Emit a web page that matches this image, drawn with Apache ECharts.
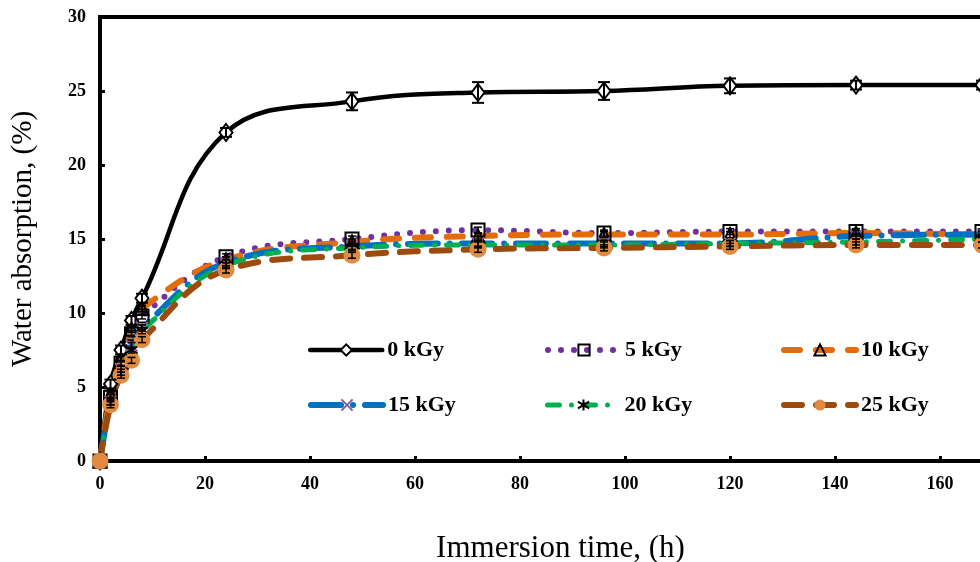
<!DOCTYPE html>
<html>
<head>
<meta charset="utf-8">
<script src="https://cdn.jsdelivr.net/npm/echarts@6/dist/echarts.min.js"></script>
<style>
  html, body { margin: 0; padding: 0; background: #fff; }
  #chart { width: 980px; height: 562px; }
</style>
</head>
<body>
<div id="chart"></div>
<script>
// immersion times (h)
const times = [0, 2, 4, 6, 8, 24, 48, 72, 96, 120, 144, 168];

// water absorption (%) per dose
const dose0 = [0, 5.2, 7.5, 9.5, 11.0, 22.2, 24.3, 24.9, 25.0, 25.35, 25.4, 25.4];
const dose5 = [0, 4.3, 6.6, 8.6, 9.8, 13.8, 15.0, 15.6, 15.4, 15.5, 15.5, 15.5];
const dose10 = [0, 4.5, 6.9, 8.9, 10.3, 13.6, 14.8, 15.2, 15.3, 15.3, 15.4, 15.3];
const dose15 = [0, 4.0, 6.2, 7.8, 9.0, 13.4, 14.5, 14.7, 14.7, 14.7, 15.2, 15.3];
const dose20 = [0, 4.0, 6.0, 7.5, 8.8, 13.2, 14.4, 14.6, 14.6, 14.7, 14.8, 15.0];
const dose25 = [0, 3.8, 5.8, 6.8, 8.2, 12.9, 13.9, 14.3, 14.4, 14.5, 14.6, 14.6];

// error bar half-heights
const err0 = [0, 0.3, 0.3, 0.3, 0.3, 0.3, 0.6, 0.7, 0.6, 0.5, 0.3, 0.3];
const errOther = [0, 0.2, 0.2, 0.2, 0.2, 0.2, 0.2, 0.2, 0.2, 0.2, 0.2, 0.2];

const legendNames = ['0 kGy', '5 kGy', '10 kGy', '15 kGy', '20 kGy', '25 kGy'];
const yTicks = [0, 5, 10, 15, 20, 25, 30];
const xTicks = [0, 20, 40, 60, 80, 100, 120, 140, 160];

const serif = '"Liberation Serif", "Times New Roman", serif';

const chart = echarts.init(document.getElementById('chart'));

const pairs = (ys) => times.map((t, i) => [t, ys[i]]);
const errPairs = (ys, es) => times.map((t, i) => [t, ys[i], es[i]]).filter(d => d[2] > 0 && d[1] > 0);

const makeErrorBars = (cw, lw) => (params, api) => {
  const x = api.value(0);
  const y = api.value(1);
  const e = api.value(2);
  const top = api.coord([x, y + e]);
  const bot = api.coord([x, y - e]);
  const style = { stroke: '#000', lineWidth: lw };
  return {
    type: 'group',
    children: [
      { type: 'line', shape: { x1: top[0], y1: top[1], x2: bot[0], y2: bot[1] }, style },
      { type: 'line', shape: { x1: top[0] - cw, y1: top[1], x2: top[0] + cw, y2: top[1] }, style },
      { type: 'line', shape: { x1: bot[0] - cw, y1: bot[1], x2: bot[0] + cw, y2: bot[1] }, style }
    ]
  };
};

// per-series style
const lineStyles = [
  { color: '#000', width: 4.5, type: 'solid', cap: 'round' },
  { color: '#7030A0', width: 6, type: [0, 13], cap: 'round' },
  { color: '#E46C0A', width: 6, type: [16, 16], cap: 'round' },
  { color: '#0070C0', width: 6, type: [30, 12, 0, 12], cap: 'round' },
  { color: '#00B050', width: 5, type: [12, 12, 0, 12], cap: 'round' },
  { color: '#9C4A0E', width: 6, type: [18, 14], cap: 'round' }
];
const markers = [
  { symbol: 'diamond', size: [13, 17], item: { color: '#fff', borderColor: '#000', borderWidth: 2 } },
  { symbol: 'rect', size: 13, item: { color: 'rgba(255,255,255,0)', borderColor: '#000', borderWidth: 2 } },
  { symbol: 'triangle', size: 13, item: { color: 'rgba(255,255,255,0)', borderColor: '#000', borderWidth: 2 } },
  { symbol: 'path://M0,0L10,10M10,0L0,10', size: 12, item: { color: 'rgba(0,0,0,0)', borderColor: '#7F5FA0', borderWidth: 2 } },
  { symbol: 'path://M5,0L5,10M0,2L10,8M0,8L10,2', size: 12, item: { color: 'rgba(0,0,0,0)', borderColor: '#000', borderWidth: 2 } },
  { symbol: 'circle', size: 17, item: { color: '#E08A42', borderWidth: 0 } }
];
const doses = [dose0, dose5, dose10, dose15, dose20, dose25];

const lineSeries = doses.map((ys, i) => ({
  name: legendNames[i],
  type: 'line',
  smooth: 0.4,
  data: pairs(ys),
  lineStyle: lineStyles[i],
  itemStyle: markers[i].item,
  symbol: markers[i].symbol,
  symbolSize: markers[i].size,
  z: 2
}));

const errSeries = doses.map((ys, i) => ({
  type: 'custom',
  renderItem: i === 0 ? makeErrorBars(6, 2) : makeErrorBars(4, 1.5),
  data: errPairs(ys, i === 0 ? err0 : errOther),
  z: 3,
  silent: true
}));

const legendPos = [
  [308, 339], [545, 339], [781, 339],
  [308, 394], [545, 394], [781, 394]
];

const option = {
  animation: false,
  backgroundColor: '#fff',
  grid: {
    left: 100,
    top: 17,
    width: 945,
    height: 444,
    outerBoundsMode: 'none',
    containLabel: false,
    show: true,
    borderColor: '#000',
    borderWidth: 4
  },
  legend: legendNames.map((n, i) => ({
    data: [n],
    left: legendPos[i][0],
    top: legendPos[i][1],
    padding: 0,
    itemWidth: 72,
    itemHeight: 14,
    lineStyle: lineStyles[i],
    textStyle: { fontFamily: serif, fontWeight: 'bold', fontSize: 22, color: '#000' }
  })),
  xAxis: {
    type: 'value',
    min: 0,
    max: 180,
    interval: 20,
    name: 'Immersion time, (h)',
    nameLocation: 'middle',
    nameGap: 72,
    nameTextStyle: { fontFamily: serif, fontSize: 31, color: '#000', padding: [0, 24, 0, 0] },
    axisLine: { lineStyle: { color: '#000', width: 4 } },
    axisTick: { inside: true, length: 5, lineStyle: { color: '#000', width: 3 } },
    axisLabel: {
      margin: 14,
      fontFamily: serif,
      fontWeight: 'bold',
      fontSize: 18,
      color: '#000',
      formatter: (v) => (xTicks.indexOf(v) >= 0 ? String(v) : '')
    },
    splitLine: { show: false }
  },
  yAxis: {
    type: 'value',
    min: 0,
    max: 30,
    interval: 5,
    name: 'Water absorption, (%)',
    nameLocation: 'middle',
    nameGap: 62,
    nameTextStyle: { fontFamily: serif, fontSize: 29, color: '#000' },
    axisLine: { lineStyle: { color: '#000', width: 4 } },
    axisTick: { inside: true, length: 5, lineStyle: { color: '#000', width: 3 } },
    axisLabel: {
      margin: 14,
      fontFamily: serif,
      fontWeight: 'bold',
      fontSize: 18,
      color: '#000',
      formatter: (v) => (yTicks.indexOf(v) >= 0 ? String(v) : '')
    },
    splitLine: { show: false }
  },
  series: lineSeries.concat(errSeries)
};

chart.setOption(option);
</script>
</body>
</html>
